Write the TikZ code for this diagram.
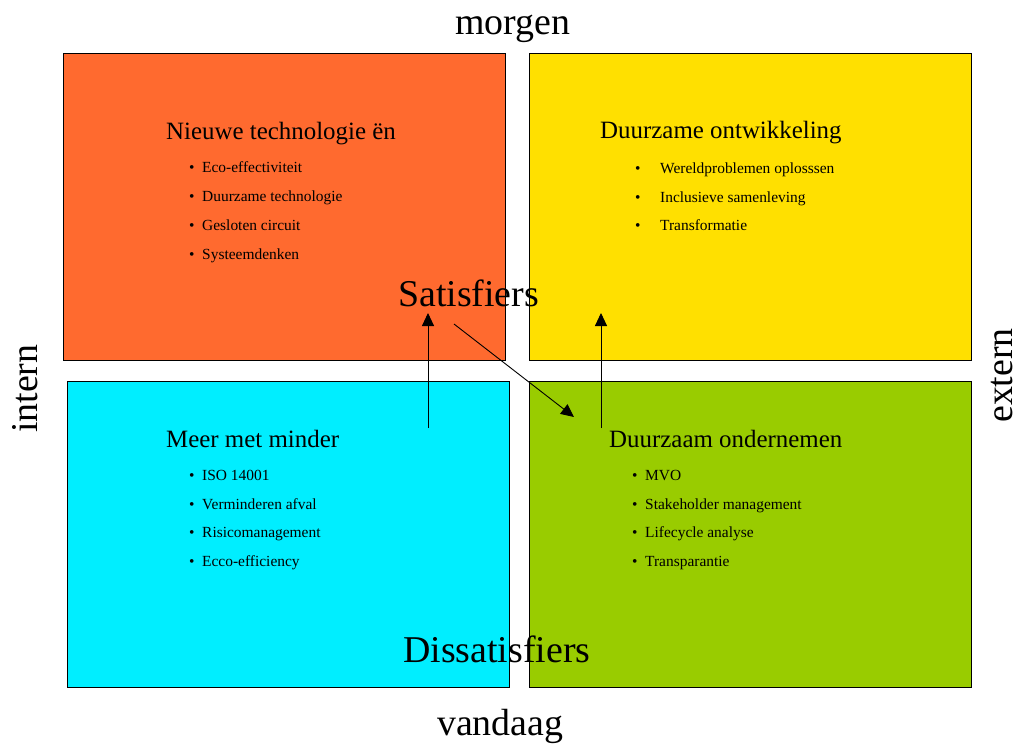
\documentclass[tikz,border=0pt]{standalone}
\usepackage{fontspec}
\setmainfont{Liberation Serif}
\usetikzlibrary{arrows.meta}
\definecolor{corange}{RGB}{255,106,47}
\definecolor{cyellow}{RGB}{255,224,0}
\definecolor{ccyan}{RGB}{0,238,255}
\definecolor{cgreen}{RGB}{153,204,0}
\tikzset{
  quad/.style={draw=black,line width=0.8bp},
  big/.style={inner sep=0,anchor=base west,font=\fontsize{38}{40}\selectfont},
  ttl/.style={inner sep=0,anchor=base west,font=\fontsize{25}{28}\selectfont},
  itm/.style={inner sep=0,anchor=base west,font=\fontsize{15.5}{18}\selectfont},
  conn/.style={line width=0.9bp,-{Triangle[length=13bp,width=12bp]}}
}
\begin{document}
\begin{tikzpicture}[x=1bp,y=-1bp]
\useasboundingbox (0,0) rectangle (1020,744);
% quadrants
\filldraw[quad,fill=corange] (63,53) rectangle (505,360);
\filldraw[quad,fill=cyellow] (529,53) rectangle (971,360);
\filldraw[quad,fill=ccyan] (67,381) rectangle (509,687);
\filldraw[quad,fill=cgreen] (529,381) rectangle (971,687);
% axis labels
\node[big] (morgen) at (455,35) {morgen};
\node[big] (vandaag) at (437,735) {vandaag};
\node[big,rotate=90] (intern) at (37,433) {intern};
\node[big,rotate=90] (extern) at (1012,423) {extern};
% orange
\node[ttl] (t1) at (166,139) {Nieuwe technologie ën};
\foreach \y/\t in {172/Eco-effectiviteit,201/Duurzame technologie,230/Gesloten circuit,259/Systeemdenken}{
  \node[itm] at (189,\y) {•};
  \node[itm] at (202,\y) {\t};
}
% yellow
\node[ttl] (t2) at (600,138) {Duurzame ontwikkeling};
\foreach \y/\t in {173/Wereldproblemen oplosssen,202/Inclusieve samenleving,230/Transformatie}{
  \node[itm] at (635,\y) {•};
  \node[itm] at (660,\y) {\t};
}
% cyan
\node[ttl] (t3) at (166,447) {Meer met minder};
\foreach \y/\t in {480/ISO 14001,509/Verminderen afval,537/Risicomanagement,566/Ecco-efficiency}{
  \node[itm] at (189,\y) {•};
  \node[itm] at (202,\y) {\t};
}
% green
\node[ttl] (t4) at (609,447) {Duurzaam ondernemen};
\foreach \y/\t in {480/MVO,509/Stakeholder management,537/Lifecycle analyse,566/Transparantie}{
  \node[itm] at (632,\y) {•};
  \node[itm] at (645,\y) {\t};
}
% big labels
\node[big] (sat) at (398,306) {Satisfiers};
\node[big] (dis) at (403,662) {Dissatisfiers};
% arrows
\coordinate (a1s) at (428,428);
\coordinate (a1e) at (428,313);
\coordinate (a2s) at (601,428);
\coordinate (a2e) at (601,313);
\coordinate (a3s) at (454,324);
\coordinate (a3e) at (574,417);
\draw[conn] (a1s) -- (a1e);
\draw[conn] (a2s) -- (a2e);
\draw[conn] (a3s) -- (a3e);
\end{tikzpicture}
\end{document}
